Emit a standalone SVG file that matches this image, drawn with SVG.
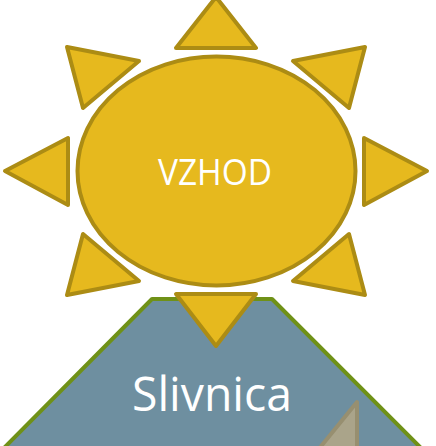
<svg xmlns="http://www.w3.org/2000/svg" width="436" height="446" viewBox="0 0 436 446">
<style>
.sun{fill:#E6B91E;stroke:#AC8C14;stroke-width:4;stroke-linejoin:round}
.lbl{fill:#fff;font-family:"Open Sans","Liberation Sans",sans-serif;text-anchor:middle}
</style>
<g id="mountain">
<polygon points="152,299 272,299 424,451 1,451" fill="#6E8FA0" stroke="#6F9117" stroke-width="4" stroke-linejoin="round"/>
<polygon points="357,402 357,450 318,450" fill="#AAA48A" stroke="#978F70" stroke-width="4" stroke-linejoin="round"/>
<text class="lbl" x="212" y="411" font-size="48" textLength="160" lengthAdjust="spacingAndGlyphs">Slivnica</text>
</g>
<g id="sun">
<ellipse class="sun" cx="216.5" cy="171" rx="139" ry="114.5"/>
<text class="lbl" x="215" y="185" font-size="37" textLength="114" lengthAdjust="spacingAndGlyphs">VZHOD</text>
</g>
<g id="rays">
<polygon class="sun" points="216,-3 256,48 176,48"/>
<polygon class="sun" points="365,47 349,108 293,61"/>
<polygon class="sun" points="427,171 364,205 364,138"/>
<polygon class="sun" points="365,295 293,281 349,234"/>
<polygon class="sun" points="216,346 176,294 256,294"/>
<polygon class="sun" points="67,295 83,234 139,281"/>
<polygon class="sun" points="5,171 68,138 68,205"/>
<polygon class="sun" points="67,47 139,61 83,108"/>
</g>
</svg>
